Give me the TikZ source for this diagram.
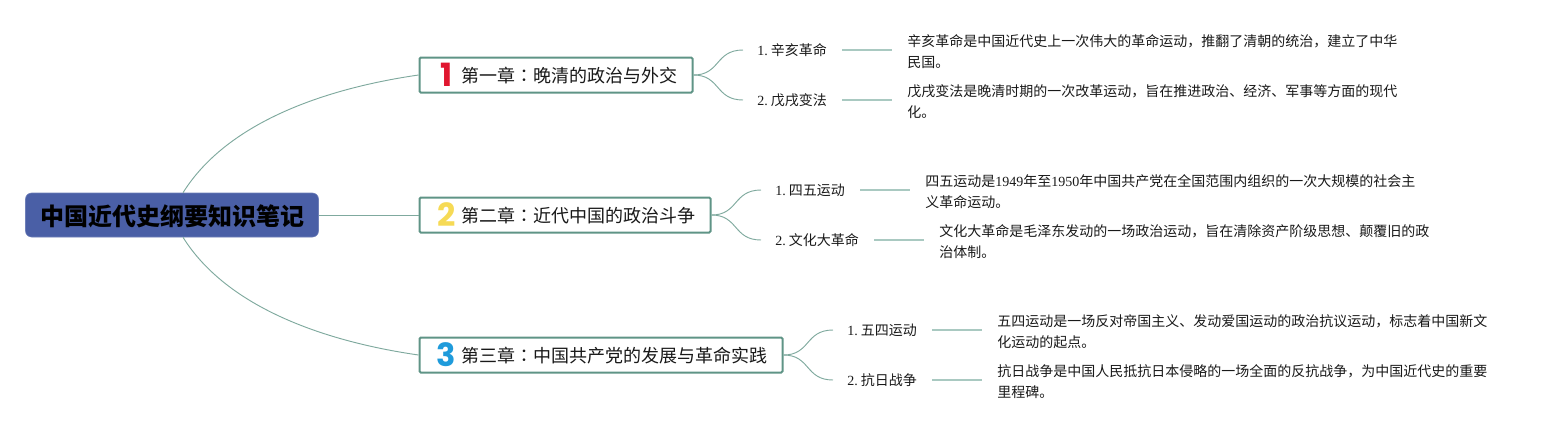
\documentclass[tikz,border=0pt]{standalone}
\usepackage{fontspec}
\setmainfont{Liberation Serif}
\newfontfamily\cjk{Noto Sans CJK SC}
\newfontfamily\cjktc{Noto Sans CJK TC}
\newfontfamily\iconfont{Poppins}
\newlength\px \setlength\px{0.75pt}
\definecolor{branch}{HTML}{5F9486}
\definecolor{trunkline}{HTML}{7FA99E}
\definecolor{leafline}{HTML}{A9C9C1}
\definecolor{rootfill}{HTML}{4A5FA6}
\definecolor{iconred}{HTML}{E0162F}
\definecolor{iconyellow}{HTML}{F6DA55}
\definecolor{iconblue}{HTML}{1F9BDB}
\newcommand{\chapicon}[2]{\makebox[18\px][c]{\smash{\raisebox{-0.2em}{\iconfont\bfseries\fontsize{24pt}{24pt}\selectfont\color{#1}#2}}}\hspace{6\px}}
\newcommand{\colonmark}{{\cjktc ：}}
\newcommand{\subtext}[2]{#1.\hspace{2.25pt}{\cjk #2}}
\tikzset{
  x=0.75pt,y=-0.75pt,
  rootbox/.style={draw=rootfill!80!white,fill=rootfill,rounded corners=6\px,minimum width=293\px,minimum height=44\px,inner sep=0pt,text height=17.8pt,text depth=2pt,font=\cjk\bfseries\fontsize{18pt}{18pt}\selectfont,text=black},
  chapbox/.style={draw=branch,line width=1.5pt,fill=white,rounded corners=1pt,anchor=west,minimum height=35\px,inner ysep=0pt,inner xsep=15\px,text height=13.7pt,text depth=2pt,font=\cjk\fontsize{13.5pt}{16pt}\selectfont,text=black!90},
  subnode/.style={anchor=west,inner ysep=4\px,inner xsep=14\px,text height=10.7pt,text depth=2pt,font=\fontsize{10.5pt}{12pt}\selectfont,text=black!90},
  descnode/.style={anchor=west,align=left,inner ysep=0pt,inner xsep=0pt,font=\fontsize{10.5pt}{15.75pt}\selectfont,text=black!90},
  trunk/.style={draw=trunkline,line width=0.7pt},
  twig/.style={draw=trunkline,line width=0.7pt},
  leaf/.style={draw=leafline,line width=1pt},
}
\begin{document}
\begin{tikzpicture}
\useasboundingbox (0,0) rectangle (1557,430);
\node[rootbox] (root) at (172,215) {中国近代史纲要知识笔记};

\node[chapbox] (c1) at (418.5,75) {\hspace{3\px}\chapicon{iconred}{1}第一章\colonmark 晚清的政治与外交};
\node[chapbox] (c2) at (418.5,215) {\hspace{3\px}\chapicon{iconyellow}{2}第二章\colonmark 近代中国的政治斗争};
\node[chapbox] (c3) at (418.5,355) {\hspace{3\px}\chapicon{iconblue}{3}第三章\colonmark 中国共产党的发展与革命实践};

\node[subnode] (s11) at (743,50) {\subtext{1}{辛亥革命}};
\node[subnode] (s12) at (743,100) {\subtext{2}{戊戌变法}};
\node[subnode] (s21) at (761,190) {\subtext{1}{四五运动}};
\node[subnode] (s22) at (761,240) {\subtext{2}{文化大革命}};
\node[subnode] (s31) at (833,330) {\subtext{1}{五四运动}};
\node[subnode] (s32) at (833,380) {\subtext{2}{抗日战争}};

\node[descnode] (d11) at (907,52) {\cjk 辛亥革命是中国近代史上一次伟大的革命运动，推翻了清朝的统治，建立了中华\\\cjk 民国。};
\node[descnode] (d12) at (907,102) {\cjk 戊戌变法是晚清时期的一次改革运动，旨在推进政治、经济、军事等方面的现代\\\cjk 化。};
\node[descnode] (d21) at (925,192) {{\cjk 四五运动是}1949{\cjk 年至}1950{\cjk 年中国共产党在全国范围内组织的一次大规模的社会主}\\\cjk 义革命运动。};
\node[descnode] (d22) at (939,242) {\cjk 文化大革命是毛泽东发动的一场政治运动，旨在清除资产阶级思想、颠覆旧的政\\\cjk 治体制。};
\node[descnode] (d31) at (997,332) {\cjk 五四运动是一场反对帝国主义、发动爱国运动的政治抗议运动，标志着中国新文\\\cjk 化运动的起点。};
\node[descnode] (d32) at (997,382) {\cjk 抗日战争是中国人民抵抗日本侵略的一场全面的反抗战争，为中国近代史的重要\\\cjk 里程碑。};

\draw[trunk] ([xshift=11\px]root.north) .. controls +(45,-72) and +(-90,13) .. (c1.west);
\draw[trunk] (root.east) -- (c2.west);
\draw[trunk] ([xshift=11\px]root.south) .. controls +(45,72) and +(-90,-13) .. (c3.west);

\foreach \c/\s in {c1/s11,c1/s12,c2/s21,c2/s22,c3/s31,c3/s32}{
  \draw[twig] (\c.east) .. controls +(27,0) and +(-28,0) .. (\s.west);
}
\foreach \s/\d in {s11/d11,s12/d12,s21/d21,s22/d22,s31/d31,s32/d32}{
  \draw[leaf] ([xshift=1\px]\s.east) -- ([xshift=-15\px]\s.east -| \d.west);
}
\end{tikzpicture}
\end{document}
